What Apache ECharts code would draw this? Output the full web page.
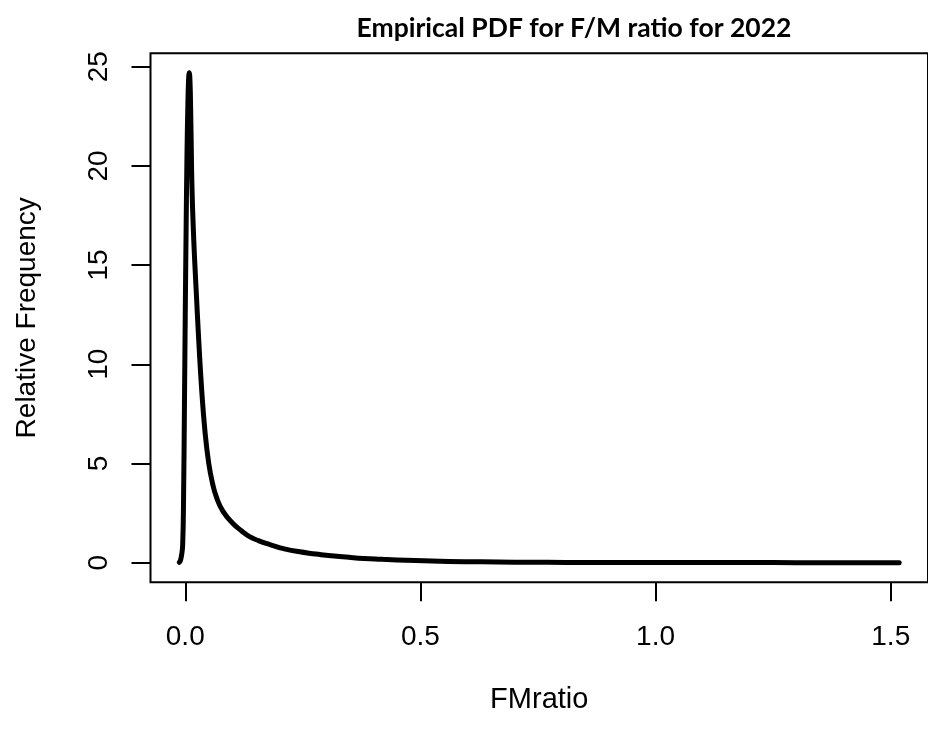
<!DOCTYPE html>
<html>
<head>
<meta charset="utf-8">
<script src="https://cdn.jsdelivr.net/npm/echarts@6/dist/echarts.min.js"></script>
<style>html,body{margin:0;padding:0;background:#fff;}#chart{width:928px;height:729px;}</style>
</head>
<body>
<div id="chart"></div>
<script>
// FM ratio values (x) and estimated density (y)
var fmRatio = [-0.0127, -0.0105, -0.008, -0.0055, -0.0035, -0.0017, 0.0, 0.0019, 0.0037, 0.0055, 0.007, 0.0085, 0.010, 0.0115, 0.013, 0.0142, 0.017, 0.0205, 0.0237, 0.028, 0.0347, 0.042, 0.05, 0.058, 0.0663, 0.08, 0.1014, 0.12, 0.1367, 0.155, 0.172, 0.19, 0.207, 0.24, 0.2776, 0.31, 0.348, 0.38, 0.418, 0.45, 0.489, 0.56, 0.63, 0.70, 0.77, 0.85, 0.95, 1.05, 1.15, 1.25, 1.35, 1.45, 1.518];
var density = [0.02, 0.1, 0.35, 0.9, 3.5, 8.0, 12.5, 17.0, 20.6, 23.0, 24.3, 24.7, 24.3, 22.8, 20.6, 19.0, 16.9, 15.0, 13.5, 11.5, 8.8, 6.6, 5.0, 4.0, 3.3, 2.6, 1.98, 1.6, 1.31, 1.12, 0.97, 0.84, 0.72, 0.56, 0.44, 0.345, 0.27, 0.215, 0.17, 0.135, 0.105, 0.066, 0.042, 0.027, 0.017, 0.011, 0.008, 0.006, 0.005, 0.004, 0.003, 0.002, 0.001];
var xTicks = [0, 0.5, 1.0, 1.5];
var yTicks = [0, 5, 10, 15, 20, 25];
var titleText = 'Empirical PDF for F/M ratio for 2022';
var xName = 'FMratio';
var yName = 'Relative Frequency';

var pts = fmRatio.map(function (x, i) { return [x, density[i]]; });
var chart = echarts.init(document.getElementById('chart'), null, {renderer: 'canvas'});
var font = 'Liberation Sans, Arial, sans-serif';
chart.setOption({
  animation: false,
  backgroundColor: '#ffffff',
  title: {
    text: titleText,
    left: 569, top: 10, textAlign: 'center',
    textStyle: {fontFamily: 'Lato, Open Sans, sans-serif', fontWeight: 'bold', fontSize: 26.5, color: '#000'}
  },
  grid: {left: 150.5, top: 53.3, width: 782.4, bottom: 146.7, show: true, borderColor: '#000', borderWidth: 2, backgroundColor: 'transparent'},
  xAxis: {
    type: 'value', min: -0.0739, max: 1.5792,
    axisLine: {show: false, onZero: false},
    splitLine: {show: false},
    axisTick: {show: true, inside: false, customValues: xTicks, length: 19, lineStyle: {color: '#000', width: 2}},
    axisLabel: {customValues: xTicks, formatter: function (v) { return v.toFixed(1); }, fontFamily: font, fontSize: 28, color: '#000', margin: 55, verticalAlign: 'middle'},
    name: xName, nameLocation: 'middle', nameGap: 118,
    nameTextStyle: {fontFamily: font, fontSize: 29, color: '#000', verticalAlign: 'middle'}
  },
  yAxis: {
    type: 'value', min: -0.988, max: 25.675,
    axisLine: {show: false, onZero: false},
    splitLine: {show: false},
    axisTick: {show: true, inside: false, customValues: yTicks, length: 19, lineStyle: {color: '#000', width: 2}},
    axisLabel: {customValues: yTicks, rotate: 90, fontFamily: font, fontSize: 28, color: '#000', margin: 51, verticalAlign: 'middle', align: 'center'},
    name: yName, nameLocation: 'middle', nameGap: 123, nameRotate: 90,
    nameTextStyle: {fontFamily: font, fontSize: 28, color: '#000', verticalAlign: 'middle', align: 'center'}
  },
  series: [{
    type: 'line', data: pts, showSymbol: false, smooth: 0.5,
    lineStyle: {color: '#000', width: 5, cap: 'round', join: 'round'},
    clip: false
  }]
});
</script>
</body>
</html>
